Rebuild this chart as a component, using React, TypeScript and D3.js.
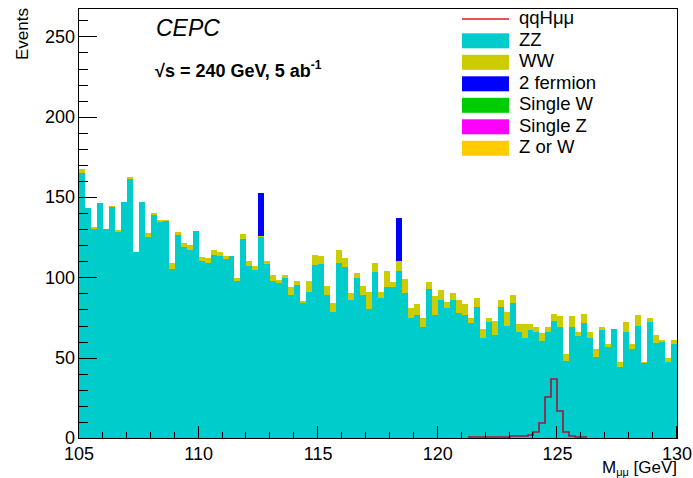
import React from "react";
import * as d3 from "d3";

// Histogram: M_mumu from 105 to 130 GeV, 100 bins
const xRange = [105, 130];
const yMaxValue = 267.7;

const zz = [
  164.9, 143.1, 130.2, 146.1, 130.4, 143.5, 128.1, 146.8, 161.1, 115.7,
  146.7, 125.1, 138.9, 134.2, 135.4, 105.5, 126.2, 118.6, 117.3, 129.1,
  110.4, 108.8, 114.2, 113.0, 111.4, 113.0, 98.0, 124.2, 106.8, 104.5,
  124.9, 108.2, 97.9, 96.4, 99.5, 89.3, 95.1, 83.9, 91.2, 107.8,
  108.5, 89.1, 78.5, 108.8, 106.6, 86.2, 99.5, 89.1, 80.2, 103.4,
  87.3, 94.3, 94.3, 104.0, 90.5, 74.6, 76.6, 69.3, 92.8, 76.6,
  86.0, 80.8, 86.0, 77.9, 76.4, 71.4, 81.6, 62.5, 72.5, 64.2,
  81.4, 70.0, 83.9, 65.7, 62.5, 67.3, 66.2, 60.4, 65.8, 73.0,
  69.3, 48.2, 69.3, 63.7, 71.5, 62.5, 50.3, 67.3, 56.5, 67.9,
  44.4, 66.2, 55.4, 70.0, 46.5, 72.5, 59.4, 60.0, 47.5, 58.6,
];

const ww = [
  2.5, 0, 1.4, 0, 0, 1.2, 1.1, 0, 1.6, 0,
  0, 2.5, 1.4, 1.3, 0.6, 3.6, 1.9, 2.6, 2.9, 0,
  2.5, 3.5, 2.9, 2.5, 1.6, 0, 1.5, 2.7, 3.5, 2.5,
  1.0, 2.1, 3.7, 1.8, 2.1, 5.0, 2.9, 1.5, 6.8, 6.2,
  5.0, 5.7, 5.4, 8.3, 5.6, 4.0, 3.5, 5.8, 11.0, 5.4,
  3.5, 9.5, 3.1, 6.3, 8.5, 6.6, 6.7, 5.3, 4.6, 11.9,
  6.2, 3.7, 4.2, 8.1, 6.9, 3.6, 5.6, 5.4, 2.1, 8.9,
  4.6, 8.2, 5.2, 5.3, 8.5, 3.7, 3.1, 5.2, 3.5, 4.2,
  6.9, 4.1, 6.9, 2.5, 5.8, 3.7, 5.1, 2.0, 2.1, 0,
  3.1, 6.3, 3.2, 6.6, 1.0, 2.1, 4.8, 1.1, 2.1, 2.5,
];

const twoFermion = [
  0, 0, 0, 0, 0, 0, 0, 0, 0, 0,
  0, 0, 0, 0, 0, 0, 0, 0, 0, 0,
  0, 0, 0, 0, 0, 0, 0, 0, 0, 0,
  26.6, 0, 0, 0, 0, 0, 0, 0, 0, 0,
  0, 0, 0, 0, 0, 0, 0, 0, 0, 0,
  0, 0, 0, 26.6, 0, 0, 0, 0, 0, 0,
  0, 0, 0, 0, 0, 0, 0, 0, 0, 0,
  0, 0, 0, 0, 0, 0, 0, 0, 0, 0,
  0, 0, 0, 0, 0, 0, 0, 0, 0, 0,
  0, 0, 0, 0, 0, 0, 0, 0, 0, 0,
];

const singleW = new Array(100).fill(0);
const singleZ = new Array(100).fill(0);
const zOrW = new Array(100).fill(0);

const signal = [
  0, 0, 0, 0, 0, 0, 0, 0, 0, 0,
  0, 0, 0, 0, 0, 0, 0, 0, 0, 0,
  0, 0, 0, 0, 0, 0, 0, 0, 0, 0,
  0, 0, 0, 0, 0, 0, 0, 0, 0, 0,
  0, 0, 0, 0, 0, 0, 0, 0, 0, 0,
  0, 0, 0, 0, 0, 0, 0, 0, 0, 0,
  0, 0, 0, 0, 0, 0.3, 0.3, 0.3, 0.3, 0.3,
  0.3, 0.3, 0.5, 0.6, 0.8, 1.5, 3.0, 9.0, 25.2, 36.0,
  16.4, 3.2, 0.8, 0.3, 0.2, 0, 0, 0, 0, 0,
  0, 0, 0, 0, 0, 0, 0, 0, 0, 0,
];

const seriesKeys = ["zz", "ww", "twoFermion", "singleW", "singleZ", "zOrW"];
const seriesValues: Record<string, number[]> = { zz, ww, twoFermion, singleW, singleZ, zOrW };
const seriesColors: Record<string, string> = {
  zz: "#00cccc",
  ww: "#cccc00",
  twoFermion: "#0000ff",
  singleW: "#00cc00",
  singleZ: "#ff00ff",
  zOrW: "#ffcc00",
};
const legendLabels = ["qqHμμ", "ZZ", "WW", "2 fermion", "Single W", "Single Z", "Z or W"];
const signalColor = "#a0183a";

const xMajorTicks = [105, 110, 115, 120, 125, 130];
const xMinorTicks = d3.range(105, 131, 1);
const yMajorTicks = [0, 50, 100, 150, 200, 250];
const yMinorTicks = d3.range(0, 261, 10);

const FONT = "'Liberation Sans', Arial, Helvetica, sans-serif";

export default function App() {
  const W = 693;
  const H = 478;
  const left = 79, right = 677, top = 8, bottom = 438;
  const x = d3.scaleLinear().domain(xRange).range([left, right]);
  const y = d3.scaleLinear().domain([0, yMaxValue]).range([bottom, top]);
  const nb = zz.length;
  const bw = (xRange[1] - xRange[0]) / nb;
  const edges = d3.range(nb + 1).map((i) => xRange[0] + i * bw);

  const rows = d3.range(nb).map((i) => {
    const r: Record<string, number> = {};
    seriesKeys.forEach((k) => (r[k] = seriesValues[k][i]));
    return r;
  });
  const stacked = d3.stack<Record<string, number>>().keys(seriesKeys)(rows);

  // signal outline path (non-zero range)
  const nz = signal.map((v, i) => (v > 0 ? i : -1)).filter((i) => i >= 0);
  const first = nz[0];
  const last = nz[nz.length - 1];
  const pts: [number, number][] = [];
  pts.push([x(edges[first]), y(0)]);
  for (let i = first; i <= last; i++) {
    pts.push([x(edges[i]), y(signal[i])]);
    pts.push([x(edges[i + 1]), y(signal[i])]);
  }
  pts.push([x(edges[last + 1]), y(0)]);
  const sigPath = d3.line()(pts.map(([a, b]) => [Math.round(a), Math.round(b) - 1]));

  const rowTop = (k: number) => 11.8 + 21.5 * k;
  const legLineY = Math.round(rowTop(0) + 7.5);

  return (
    <div style={{ position: "fixed", left: 0, top: 0, width: W, height: H, background: "#fff" }}>
      <svg width={W} height={H} style={{ display: "block", fontFamily: FONT }}>
        <rect x={0} y={0} width={W} height={H} fill="#fff" />
        {/* stacked histogram */}
        <g shapeRendering="crispEdges">
          {stacked.map((s) => (
            <g key={s.key} fill={seriesColors[s.key]}>
              {s.map((d, i) => {
                if (d[1] - d[0] <= 0) return null;
                const x0 = Math.round(x(edges[i]));
                const x1 = Math.round(x(edges[i + 1]));
                const y1 = Math.round(y(d[1]));
                const y0 = Math.round(y(d[0]));
                return <rect key={i} x={x0} y={y1} width={x1 - x0} height={Math.max(0, y0 - y1)} />;
              })}
            </g>
          ))}
        </g>
        {/* signal */}
        <path d={sigPath || ""} fill="none" stroke={signalColor} strokeWidth={1.6} strokeLinejoin="miter" />

        {/* frame */}
        <rect x={left - 0.5} y={top + 0.5} width={right - left + 1} height={bottom - top} fill="none" stroke="#000" strokeWidth={1} shapeRendering="crispEdges" />

        {/* ticks */}
        <g stroke="#000" strokeWidth={1} shapeRendering="crispEdges">
          {xMinorTicks.map((t) => (
            <line key={"xm" + t} x1={Math.round(x(t)) - 0.5} x2={Math.round(x(t)) - 0.5} y1={bottom} y2={bottom - 6} />
          ))}
          {xMajorTicks.map((t) => (
            <line key={"xM" + t} x1={Math.round(x(t)) - 0.5} x2={Math.round(x(t)) - 0.5} y1={bottom} y2={bottom - 12} />
          ))}
          {yMinorTicks.map((t) => (
            <line key={"ym" + t} x1={left} x2={left + 9} y1={Math.round(y(t)) + 0.5} y2={Math.round(y(t)) + 0.5} />
          ))}
          {yMajorTicks.map((t) => (
            <line key={"yM" + t} x1={left} x2={left + 18} y1={Math.round(y(t)) + 0.5} y2={Math.round(y(t)) + 0.5} />
          ))}
        </g>
        <g fontSize={18} fill="#000">
          {xMajorTicks.map((t) => (
            <text key={"xl" + t} x={x(t)} y={460} textAnchor="middle">{t}</text>
          ))}
          {yMajorTicks.map((t) => (
            <text key={"yl" + t} x={75} y={y(t)} dy="0.35em" textAnchor="end">{t}</text>
          ))}
        </g>

        {/* axis titles */}
        <text x={right} y={473} textAnchor="end" fontSize={17}>
          M<tspan fontSize={11} dy={3}>μμ</tspan>
          <tspan dy={-3} fontSize={17}> [GeV]</tspan>
        </text>
        <text transform={`translate(28,${top}) rotate(-90)`} textAnchor="end" fontSize={17}>Events</text>

        {/* labels */}
        <text x={156} y={36} fontSize={23} fontStyle="italic">CEPC</text>
        <text x={155} y={77} fontSize={18} fontWeight="bold">
          √s = 240 GeV, 5 ab<tspan fontSize={12} dy={-8}>-1</tspan>
        </text>

        {/* legend */}
        <g>
          <line x1={462} x2={509} y1={legLineY} y2={legLineY} stroke="#e01818" strokeWidth={1.4} />
          {seriesKeys.map((k, i) => (
            <rect key={k} x={462} y={rowTop(i + 1)} width={47} height={15} fill={seriesColors[k]} />
          ))}
          {legendLabels.map((l, i) => (
            <text key={l} x={519} y={rowTop(i) + 12.4} fontSize={18.5}>{l}</text>
          ))}
        </g>
      </svg>
    </div>
  );
}
